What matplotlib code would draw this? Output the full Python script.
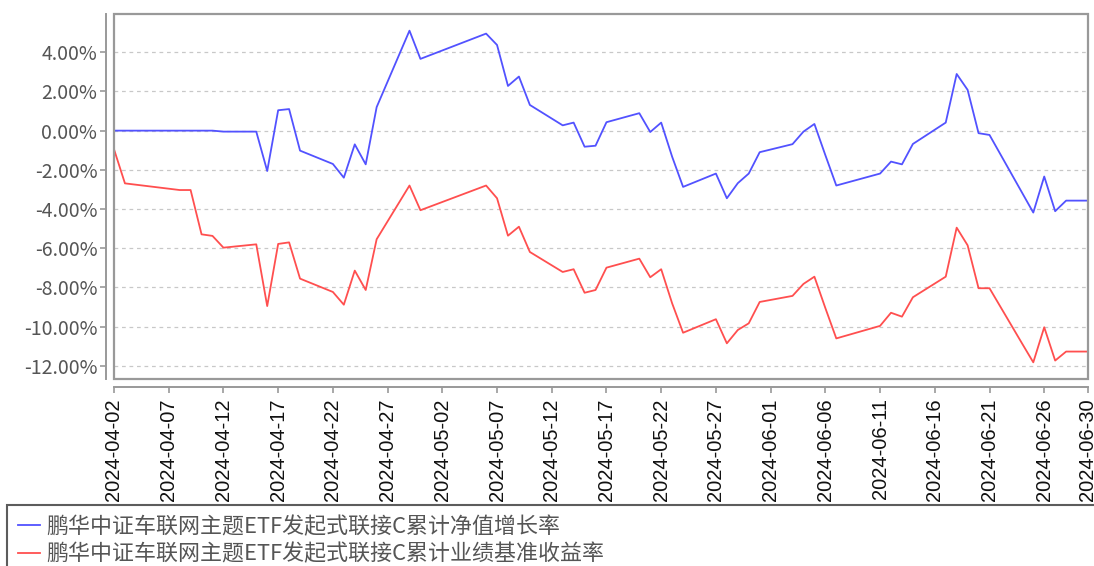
import matplotlib
matplotlib.use("Agg")
import matplotlib.pyplot as plt
from matplotlib.patches import Rectangle
import pandas as pd

plt.rcParams['axes.unicode_minus'] = False

dates = ["2024-04-02", "2024-04-03", "2024-04-08", "2024-04-09", "2024-04-10", "2024-04-11",
         "2024-04-12", "2024-04-15", "2024-04-16", "2024-04-17", "2024-04-18", "2024-04-19",
         "2024-04-22", "2024-04-23", "2024-04-24", "2024-04-25", "2024-04-26", "2024-04-29",
         "2024-04-30", "2024-05-06", "2024-05-07", "2024-05-08", "2024-05-09", "2024-05-10",
         "2024-05-13", "2024-05-14", "2024-05-15", "2024-05-16", "2024-05-17", "2024-05-20",
         "2024-05-21", "2024-05-22", "2024-05-23", "2024-05-24", "2024-05-27", "2024-05-28",
         "2024-05-29", "2024-05-30", "2024-05-31", "2024-06-03", "2024-06-04", "2024-06-05",
         "2024-06-06", "2024-06-07", "2024-06-11", "2024-06-12", "2024-06-13", "2024-06-14",
         "2024-06-17", "2024-06-18", "2024-06-19", "2024-06-20", "2024-06-21", "2024-06-24",
         "2024-06-25", "2024-06-26", "2024-06-27", "2024-06-28", "2024-06-30"]

nav_growth = [0.00, 0.00, 0.00, 0.00, 0.00, 0.00,
              -0.05, -0.05, -2.06, 1.04, 1.10, -1.02,
              -1.70, -2.40, -0.70, -1.72, 1.20, 5.10,
              3.66, 4.95, 4.37, 2.28, 2.76, 1.31,
              0.27, 0.41, -0.82, -0.77, 0.43, 0.89,
              -0.07, 0.41, -1.33, -2.87, -2.19, -3.45,
              -2.68, -2.19, -1.10, -0.69, -0.05, 0.34,
              -1.25, -2.80, -2.19, -1.58, -1.72, -0.68,
              0.41, 2.89, 2.08, -0.13, -0.22, -3.19,
              -4.18, -2.34, -4.11, -3.57, -3.57]

benchmark = [-0.95, -2.69, -3.03, -3.03, -5.29, -5.37,
             -5.97, -5.80, -8.95, -5.78, -5.70, -7.55,
             -8.23, -8.88, -7.14, -8.13, -5.54, -2.80,
             -4.06, -2.80, -3.45, -5.36, -4.90, -6.19,
             -7.21, -7.07, -8.27, -8.13, -6.99, -6.53,
             -7.48, -7.07, -8.81, -10.31, -9.62, -10.85,
             -10.17, -9.83, -8.74, -8.43, -7.82, -7.45,
             -9.05, -10.60, -9.96, -9.29, -9.49, -8.50,
             -7.45, -4.95, -5.85, -8.04, -8.04, -10.88,
             -11.82, -10.03, -11.73, -11.27, -11.27]

series_names = ["鹏华中证车联网主题ETF发起式联接C累计净值增长率",
                "鹏华中证车联网主题ETF发起式联接C累计业绩基准收益率"]

x_tick_labels = ["2024-04-02", "2024-04-07", "2024-04-12", "2024-04-17", "2024-04-22",
                 "2024-04-27", "2024-05-02", "2024-05-07", "2024-05-12", "2024-05-17",
                 "2024-05-22", "2024-05-27", "2024-06-01", "2024-06-06", "2024-06-11",
                 "2024-06-16", "2024-06-21", "2024-06-26", "2024-06-30"]
y_ticks = [-12, -10, -8, -6, -4, -2, 0, 2, 4]

W, H = 1094, 566
fig = plt.figure(figsize=(W / 100, H / 100), dpi=100)
ax = fig.add_axes([114 / W, 1 - 379 / H, (1088 - 114) / W, (379 - 14) / H])

spine_col = "#999999"
for side in ["top", "right"]:
    ax.spines[side].set_visible(False)
for side in ["left", "bottom"]:
    ax.spines[side].set_position(("outward", 6))
    ax.spines[side].set_color(spine_col)
    ax.spines[side].set_linewidth(1.4)

x = pd.to_datetime(dates)
ax.plot(x, nav_growth, color="#5252ff", lw=1.3, label=series_names[0])
ax.plot(x, benchmark, color="#ff4f4f", lw=1.3, label=series_names[1])

ax.set_xlim(pd.Timestamp("2024-04-02"), pd.Timestamp("2024-06-30"))
ax.set_ylim(-12.67, 5.95)

ax.set_yticks(y_ticks)
ax.set_yticklabels([f"{v:.2f}%" for v in y_ticks], family=["Noto Sans CJK SC", "DejaVu Sans"],
                   fontsize=14, color="#555555")
ax.set_xticks(pd.to_datetime(x_tick_labels))
ax.set_xticklabels(x_tick_labels, rotation=90, family="Liberation Sans",
                   fontsize=14.5, color="#111111")

ax.grid(axis="y", color="#c8c8c8", linestyle=(0, (3, 3)), linewidth=0.9)
ax.set_axisbelow(True)

ax.add_patch(Rectangle((0, 0), 1, 1, transform=ax.transAxes, fill=False,
                       edgecolor=spine_col, linewidth=1.6, clip_on=False, zorder=5))
ax.tick_params(axis="both", colors=spine_col, length=4, width=1.2)
ax.tick_params(axis="y", pad=2, labelcolor="#555555")
ax.tick_params(axis="x", pad=4, labelcolor="#111111")

leg = fig.legend(loc="upper left", bbox_to_anchor=(7 / W, 0.0, 1.0, 1 - 505 / H),
                 mode="expand", ncol=1, frameon=True, fancybox=False,
                 prop={"family": ["Noto Sans CJK SC", "DejaVu Sans"], "size": 15.8},
                 handlelength=1.0, handletextpad=0.3, borderpad=0.5, labelspacing=0.25,
                 borderaxespad=0)
leg.get_frame().set_edgecolor("#333333")
leg.get_frame().set_linewidth(1.5)
for t in leg.get_texts():
    t.set_color("#555555")

fig.savefig("out.png", dpi=100)
